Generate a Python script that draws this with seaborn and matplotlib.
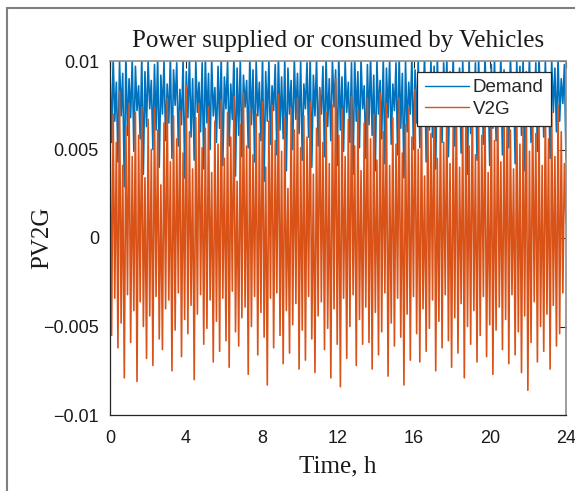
import numpy as np
import pandas as pd
import seaborn as sns
import matplotlib
matplotlib.use("Agg")
import matplotlib.pyplot as plt
from matplotlib.patches import Rectangle

# Power per vehicle, in units of 1e-3, sampled every 5 minutes over one day
demand_milli = [
    9.6, 5.4, 10.2, 6.6, 8.8, 4.3, 10.0, 6.9, 9.3, 2.9, 10.4, 5.8, 9.0, 6.8, 10.1, 4.9, 9.7, 7.2, 8.6, 5.6, 10.3, 3.6, 9.4, 6.3,
    10.0, 7.3, 8.9, 5.0, 9.8, 6.1, 10.2, 4.0, 9.2, 7.0, 10.0, 5.5, 8.7, 6.5, 10.3, 4.5, 9.5, 7.5, 9.9, 5.2, 8.4, 6.4, 10.1, 3.4,
    9.4, 6.8, 10.2, 5.7, 9.0, 4.4, 10.0, 7.1, 8.8, 6.0, 9.9, 3.9, 10.3, 6.5, 9.3, 5.0, 10.1, 6.9, 8.5, 5.4, 9.7, 6.2, 10.2, 4.1,
    9.1, 7.3, 10.0, 5.2, 8.7, 6.7, 10.3, 3.5, 9.6, 5.8, 10.1, 4.6, 9.2, 7.4, 8.9, 5.1, 10.2, 6.4, 9.5, 4.3, 10.0, 6.9, 8.8, 5.5,
    10.2, 3.2, 9.4, 6.6, 10.0, 5.3, 8.6, 7.2, 9.8, 4.7, 10.3, 6.1, 9.1, 5.6, 10.1, 3.8, 9.6, 7.0, 8.9, 5.0, 10.2, 6.7, 9.3, 5.9,
    10.0, 4.4, 8.7, 7.3, 9.9, 5.7, 10.3, 4.0, 9.2, 6.9, 10.1, 5.2, 8.5, 7.0, 9.7, 4.6, 10.2, 6.3, 9.0, 5.5, 10.0, 7.4, 9.5, 4.1,
    10.3, 6.1, 9.1, 4.9, 10.0, 7.1, 8.8, 5.4, 9.9, 3.6, 10.2, 6.6, 9.4, 5.1, 10.1, 7.3, 8.6, 4.5, 9.8, 6.4, 10.3, 5.8, 9.2, 3.8,
    10.0, 7.0, 8.9, 5.6, 10.2, 4.2, 9.6, 6.8, 10.1, 5.3, 8.7, 7.2, 9.9, 4.7, 10.3, 6.2, 9.3, 3.4, 10.0, 6.0, 8.8, 7.0, 10.2, 5.0,
    9.5, 6.5, 10.1, 5.1, 8.6, 7.4, 10.3, 4.3, 9.2, 6.1, 10.0, 5.7, 9.7, 3.9, 10.2, 6.9, 8.9, 5.4, 9.9, 7.1, 10.1, 4.6, 9.4, 6.3,
    10.3, 5.2, 8.8, 7.3, 9.6, 4.8, 10.0, 6.6, 9.1, 3.6, 10.2, 5.9, 8.7, 7.0, 9.9, 4.4, 10.1, 6.7, 9.3, 5.3, 10.3, 7.5, 8.9, 4.1,
    9.8, 6.2, 10.1, 5.5, 9.0, 7.2, 10.2, 4.7, 9.5, 6.8, 8.6, 5.1, 10.3, 7.4, 9.2, 4.2, 10.0, 6.4, 9.7, 5.8, 10.1, 3.8, 9.4, 7.0,
    10.2, 5.4, 8.9, 6.9, 9.9, 4.9, 10.3, 7.3, 9.1, 5.7, 10.0, 6.3, 8.7, 4.5, 10.1, 7.1, 9.6, 6.0, 10.2, 6.6, 9.0, 7.6, 9.8, 4.5,
]

v2g_milli = [
    7.1, -5.5, 7.0, -3.4, 5.4, -6.2, 8.3, -4.8, 4.1, -7.9, 6.3, -3.2, 7.6, -5.9, 4.6, -4.1, 7.1, -8.1, 5.8, -3.6, 7.4, -5.0, 3.4, -6.8,
    6.7, -4.4, 5.0, -7.2, 7.3, -3.3, 6.1, -5.7, 3.0, -6.3, 6.5, -4.0, 7.9, -3.5, 4.3, -7.5, 6.9, -5.2, 5.6, -3.1, 7.2, -6.7, 4.8, -4.6,
    8.6, -5.4, 6.0, -3.8, 3.9, -8.0, 6.8, -4.3, 7.6, -3.2, 5.1, -6.0, 6.2, -5.1, 7.4, -3.5, 3.7, -7.0, 6.6, -4.7, 5.3, -6.4, 7.8, -3.4,
    4.5, -5.8, 7.1, -7.3, 5.7, -3.0, 8.0, -5.3, 3.2, -6.1, 6.4, -4.5, 8.2, -3.9, 5.2, -7.7, 7.2, -5.0, 4.7, -3.3, 7.0, -6.6, 5.9, -4.2,
    7.7, -5.6, 4.0, -8.3, 6.6, -3.4, 7.5, -6.2, 5.5, -3.1, 8.1, -5.5, 4.9, -7.1, 6.8, -4.1, 2.8, -6.5, 7.3, -4.9, 6.1, -3.7, 7.9, -7.4,
    5.1, -5.2, 6.9, -6.9, 5.7, -3.3, 7.7, -5.7, 3.6, -7.6, 6.2, -4.4, 8.4, -3.6, 5.4, -6.3, 7.1, -5.1, 4.2, -7.9, 7.5, -4.0, 9.0, -6.0,
    5.8, -8.4, 7.3, -3.4, 4.6, -6.8, 6.7, -5.0, 8.0, -3.2, 5.2, -7.2, 7.2, -4.6, 3.8, -6.0, 6.5, -3.9, 7.9, -5.9, 5.6, -7.4, 7.0, -4.2,
    4.4, -6.6, 8.2, -5.3, 6.0, -3.1, 7.6, -7.8, 4.1, -4.8, 6.8, -6.1, 5.3, -3.4, 7.9, -5.6, 4.8, -8.3, 6.4, -4.3, 7.3, -6.9, 5.7, -3.3,
    8.4, -5.4, 5.0, -7.0, 7.1, -4.0, 3.5, -6.4, 7.5, -5.1, 5.9, -3.5, 8.1, -7.5, 4.5, -4.7, 7.0, -6.2, 5.4, -3.2, 7.7, -5.8, 4.2, -7.3,
    6.6, -4.5, 7.9, -6.5, 4.0, -3.7, 6.3, -7.9, 7.4, -5.0, 5.2, -6.0, 8.3, -4.1, 4.7, -7.0, 6.8, -5.5, 5.8, -3.3, 7.5, -6.7, 3.7, -4.9,
    7.2, -7.7, 5.5, -5.2, 8.1, -3.9, 4.3, -6.3, 6.9, -4.6, 7.8, -7.1, 6.1, -3.2, 3.9, -6.6, 7.4, -5.3, 5.3, -7.6, 6.5, -4.4, 8.0, -8.6,
    4.9, -5.9, 7.3, -3.6, 5.9, -7.0, 6.7, -5.0, 4.1, -6.4, 7.8, -4.3, 5.6, -7.4, 7.1, -3.8, 4.6, -6.1, 7.5, -5.4, 6.0, -3.1, 4.2, 0.8,
]

x_ticks = [0, 4, 8, 12, 16, 20, 24]
y_ticks = [-0.01, -0.005, 0, 0.005, 0.01]
y_tick_labels = ["\u22120.01", "\u22120.005", "0", "0.005", "0.01"]

series_names = ["Demand", "V2G"]
series_colors = ["#0072BD", "#D95319"]

n = len(demand_milli)
time_h = np.arange(n) * 24.0 / (n - 1)
df = pd.DataFrame({
    "Time": np.concatenate([time_h, time_h]),
    "Power": np.concatenate([np.array(demand_milli), np.array(v2g_milli)]) * 1e-3,
    "Series": [series_names[0]] * n + [series_names[1]] * n,
})

sns.set_theme(style="white")
plt.rcParams["font.family"] = ["Liberation Sans", "DejaVu Sans"]

W, H = 575, 491
fig = plt.figure(figsize=(W / 100, H / 100), dpi=100)
ax = fig.add_axes([110 / W, 1 - 415 / H, 456 / W, 354 / H])

sns.lineplot(data=df, x="Time", y="Power", hue="Series", palette=series_colors,
             estimator=None, sort=False, linewidth=1.2, ax=ax, legend=True)

ax.set_xlim(0, 24)
ax.set_ylim(-0.01, 0.01)
ax.set_xticks(x_ticks)
ax.set_xticklabels([str(v) for v in x_ticks])
ax.set_yticks(y_ticks)
ax.set_yticklabels(y_tick_labels)
ax.tick_params(axis="both", which="both", direction="in", length=5, width=0.8,
               labelsize=13, colors="#262626", top=True, right=True)
ax.tick_params(axis="x", pad=11)
ax.tick_params(axis="y", pad=8)
for lbl in ax.get_xticklabels() + ax.get_yticklabels():
    lbl.set_color("#1a1a1a")

for side in ["left", "bottom"]:
    ax.spines[side].set_color("#262626")
    ax.spines[side].set_linewidth(0.9)
for side in ["top", "right"]:
    ax.spines[side].set_color("#8c8c8c")
    ax.spines[side].set_linewidth(1.2)

serif = ["Liberation Serif", "DejaVu Serif"]
ax.set_title("Power supplied or consumed by Vehicles", family=serif, fontsize=18,
             color="#1a1a1a", pad=10)
ax.set_xlabel("Time, h", family=serif, fontsize=18, color="#1a1a1a")
ax.set_ylabel("PV2G", family=serif, fontsize=18, color="#1a1a1a")
ax.xaxis.set_label_coords(0.5, -0.115)
ax.yaxis.set_label_coords(-0.125, 0.5)

handles, labels = ax.get_legend_handles_labels()
leg = ax.legend(handles, labels, loc="upper right", bbox_to_anchor=(0.967, 0.97),
                frameon=True, fancybox=False, framealpha=1, facecolor="white",
                fontsize=13.5, handlelength=2.35, handletextpad=0.2, borderpad=0.4,
                labelspacing=0.25, borderaxespad=0)
leg.get_frame().set_edgecolor("#262626")
leg.get_frame().set_linewidth(0.9)
for line in leg.get_lines():
    line.set_linewidth(1.0)

# outer frame around the figure
fig.add_artist(Rectangle((7 / W, -0.1), 1.2, 1 - 8 / H + 0.1, transform=fig.transFigure,
                         fill=False, edgecolor="#7f7f7f", linewidth=1.5))

fig.savefig("out.png", dpi=100)
